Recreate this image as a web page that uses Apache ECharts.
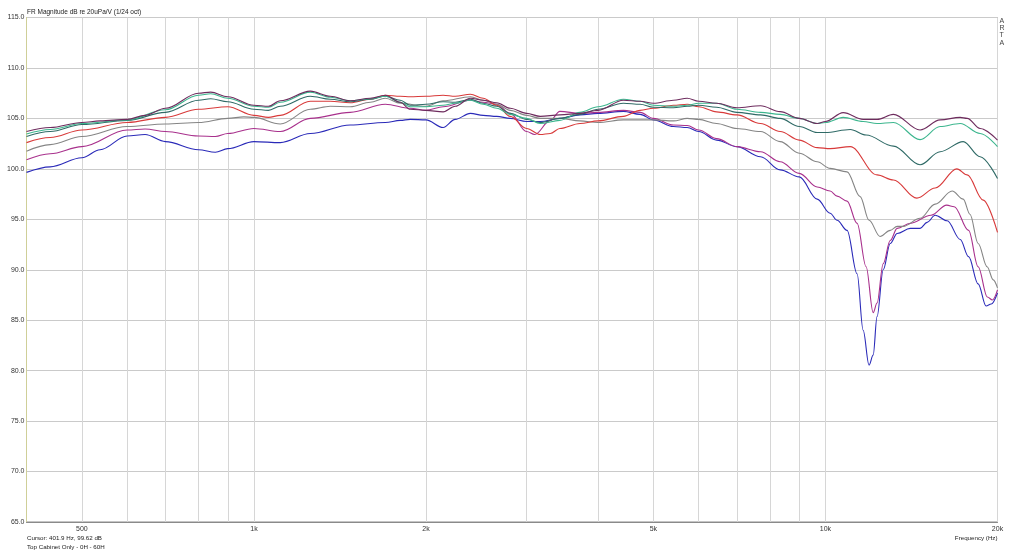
<!DOCTYPE html>
<html>
<head>
<meta charset="utf-8">
<script src="https://cdn.jsdelivr.net/npm/echarts@6/dist/echarts.min.js"></script>
<style>
html,body{margin:0;padding:0;background:#fff;}
#chart{width:1024px;height:552px;}
</style>
</head>
<body>
<div id="chart"></div>
<script>
// Frequencies (Hz) for grid lines and labels
const gridFreqs = [500,600,700,800,900,1000,2000,3000,4000,5000,6000,7000,8000,9000,10000,20000];
const labelFreqs = [500,1000,2000,5000,10000,20000];

// Series: [frequency Hz, dB]
const curvePurple = [[400,103.7],[440,104.1],[500,104.6],[538,104.75],[600,104.9],[645,105.3],[700,106.0],[800,107.5],[840,107.6],[900,107.15],[1000,106.3],[1060,106.2],[1112,106.75],[1255,107.7],[1360,107.2],[1474,106.75],[1598,107.0],[1698,107.3],[1803,106.6],[1877,105.9],[2000,105.8],[2143,105.65],[2250,106.2],[2392,107.0],[2518,106.8],[2660,106.55],[2808,106.0],[3000,105.5],[3169,105.2],[3430,105.35],[3720,105.5],[4000,105.8],[4430,106.8],[4740,106.7],[5000,106.5],[5420,106.8],[5730,107.0],[6000,106.7],[6450,106.5],[7000,106.05],[7700,106.25],[8333,105.67],[9000,105.0],[9672,104.5],[10000,104.7],[10740,105.57],[11640,104.9],[12310,104.9],[13150,105.4],[14640,103.85],[15870,104.85],[17210,105.1],[17700,105.0],[18650,104.0],[20000,102.85]];
const curveMint = [[400,103.45],[440,103.9],[500,104.5],[600,104.85],[700,105.85],[800,107.3],[840,107.45],[900,107.0],[1000,106.2],[1060,106.1],[1112,106.6],[1255,107.6],[1360,107.1],[1474,106.75],[1598,106.95],[1698,107.2],[1803,106.6],[1877,106.15],[2000,106.15],[2143,106.3],[2250,106.5],[2392,106.8],[2518,106.4],[2660,106.0],[2808,105.4],[3000,105.0],[3169,104.5],[3430,104.8],[3720,105.6],[4000,106.15],[4430,106.9],[4740,106.7],[5000,106.3],[5420,106.2],[5730,106.3],[6000,106.5],[6450,106.5],[7000,105.9],[7700,105.6],[8333,105.4],[9000,105.0],[9672,104.5],[10000,104.6],[10740,105.1],[11640,104.7],[12310,104.5],[13150,104.6],[14640,102.9],[15870,104.2],[17210,104.5],[18650,103.5],[20000,102.2]];
const curveTeal = [[400,103.2],[440,103.7],[500,104.4],[600,104.8],[700,105.6],[800,106.8],[840,106.95],[900,106.65],[1000,105.9],[1060,105.8],[1112,106.2],[1255,107.2],[1360,106.9],[1474,106.65],[1598,106.9],[1698,107.2],[1803,106.8],[1877,106.3],[2000,106.4],[2143,106.65],[2250,106.6],[2392,106.9],[2518,106.5],[2660,106.2],[2808,105.5],[3000,104.9],[3169,104.6],[3430,105.0],[3720,105.4],[4000,105.9],[4430,106.5],[4740,106.4],[5000,106.1],[5420,106.05],[5730,106.2],[6000,106.3],[6450,106.1],[7000,105.6],[7700,105.35],[8333,105.0],[9000,104.2],[9672,103.6],[10000,103.6],[11050,103.9],[11780,103.35],[13150,102.25],[14640,100.4],[15870,101.7],[17420,102.7],[18650,101.2],[20000,99.05]];
const curveRed = [[400,102.6],[440,103.1],[500,103.85],[600,104.6],[700,105.1],[800,105.9],[900,106.15],[1000,105.3],[1060,105.1],[1112,105.3],[1255,106.7],[1360,106.7],[1474,106.55],[1598,106.9],[1698,107.3],[1803,107.2],[1877,107.15],[2000,107.2],[2143,107.3],[2250,107.2],[2392,107.4],[2518,107.0],[2660,106.3],[2808,105.2],[3000,104.0],[3169,103.4],[3300,103.5],[3430,104.0],[3720,104.5],[4000,104.75],[4430,105.2],[4740,105.8],[5000,106.0],[5420,106.3],[5730,106.4],[6000,106.15],[6450,105.65],[7000,105.35],[7700,104.5],[8333,103.7],[9000,102.85],[9672,102.1],[10190,102.0],[11050,102.2],[12310,99.4],[13150,98.9],[14450,97.1],[15560,98.1],[16980,100.0],[17700,99.4],[18880,96.9],[20000,93.7]];
const curveGray = [[400,101.75],[440,102.4],[500,103.2],[600,104.2],[700,104.45],[800,104.6],[900,105.0],[960,105.15],[1000,105.1],[1112,104.45],[1255,105.9],[1360,106.2],[1474,106.15],[1598,106.6],[1698,107.0],[1803,106.5],[2000,106.2],[2143,106.75],[2392,107.15],[2518,106.8],[2660,106.4],[2808,105.8],[3000,105.3],[3169,105.0],[3430,105.0],[3720,104.75],[4000,104.6],[4430,104.85],[5000,104.85],[5420,104.75],[5730,105.0],[6000,104.9],[6450,104.5],[7000,104.0],[7700,103.7],[8333,102.7],[9000,101.55],[9672,100.7],[10190,100.05],[10910,99.7],[11500,97.25],[11920,94.9],[12460,93.3],[12980,93.9],[13350,94.3],[13680,94.3],[14640,95.1],[15560,96.5],[16660,97.8],[17420,97.0],[17900,95.5],[18500,92.6],[19180,90.3],[19660,89.0],[20000,88.2]];
const curveMagenta = [[400,100.9],[440,101.5],[500,102.2],[600,103.85],[645,103.95],[700,103.7],[800,103.25],[856,103.2],[900,103.5],[1000,104.0],[1112,103.7],[1255,105.0],[1474,105.6],[1698,106.4],[1877,106.0],[2000,105.8],[2143,106.15],[2392,106.8],[2518,106.6],[2660,106.4],[2808,105.5],[3000,103.7],[3100,103.4],[3300,104.8],[3430,105.7],[3720,105.5],[4000,105.6],[4430,105.8],[4740,105.6],[5000,105.0],[5420,104.35],[5730,104.3],[6000,103.85],[6450,103.0],[7000,102.2],[7700,101.7],[8333,100.7],[9000,99.55],[9672,98.2],[10190,97.8],[10480,97.3],[10910,96.8],[11360,94.6],[11780,90.3],[12120,85.75],[12310,86.7],[12620,90.6],[12980,92.9],[13350,94.1],[14070,94.6],[15300,95.4],[16300,96.4],[16800,96.25],[17800,93.9],[18500,90.3],[19200,87.3],[19600,87.0],[20000,88.0]];
const curveBlue = [[400,99.65],[440,100.2],[500,101.1],[538,101.9],[600,103.25],[645,103.4],[700,102.7],[800,101.9],[856,101.65],[900,102.0],[1000,102.7],[1112,102.6],[1255,103.5],[1474,104.35],[1698,104.6],[1803,104.8],[1877,104.9],[2000,104.85],[2143,104.1],[2250,104.9],[2392,105.5],[2518,105.3],[2660,105.2],[2808,105.0],[3000,104.7],[3169,104.7],[3430,105.0],[3720,105.35],[4000,105.5],[4430,105.7],[4740,105.4],[5000,104.85],[5420,104.2],[5730,104.1],[6000,103.7],[6450,102.85],[7000,102.2],[7700,101.2],[8333,99.9],[9000,99.2],[9672,97.0],[10190,95.6],[10480,94.9],[10910,93.9],[11360,89.6],[11640,84.0],[11920,80.55],[12120,81.55],[12310,85.35],[12620,90.0],[12980,92.6],[13350,93.6],[14070,94.1],[14640,94.1],[15060,94.7],[15560,95.4],[16330,94.85],[17210,93.0],[17800,91.3],[18500,88.6],[19100,86.4],[19500,86.6],[20000,87.7]];

const curves = [
  {name:'blue', data:curveBlue, color:'#2a2ab8'},
  {name:'magenta', data:curveMagenta, color:'#a8308c'},
  {name:'gray', data:curveGray, color:'#858585'},
  {name:'red', data:curveRed, color:'#d83a3a'},
  {name:'teal', data:curveTeal, color:'#2f6a66'},
  {name:'mint', data:curveMint, color:'#3cb68e'},
  {name:'purple', data:curvePurple, color:'#6e2c5e'}
];

const FONT = 'Liberation Sans, Arial, sans-serif';
const chart = echarts.init(document.getElementById('chart'));
chart.setOption({
  animation:false,
  backgroundColor:'#ffffff',
  grid:{left:26.5, right:26.5, top:17.5, bottom:30, show:true, borderColor:'#8a8a8a', borderWidth:1, backgroundColor:'#ffffff'},
  xAxis:{
    type:'log', logBase:10, min:400, max:20000,
    axisLine:{show:true, lineStyle:{color:'#8a8a8a', width:1}},
    axisTick:{show:false, customValues:gridFreqs},
    splitLine:{show:true, lineStyle:{color:'#d6d6d6', width:1}},
    minorSplitLine:{show:false},
    axisLabel:{customValues:labelFreqs, fontFamily:FONT, fontSize:7, color:'#333', margin:4,
      formatter:function(v){return v>=1000 ? (Math.round(v/1000))+'k' : String(Math.round(v));}}
  },
  yAxis:{
    type:'value', min:65, max:115, interval:5,
    axisLine:{show:true, lineStyle:{color:'#cfcf98', width:1}},
    axisTick:{show:false},
    splitLine:{show:true, lineStyle:{color:'#cacaca', width:1}},
    axisLabel:{fontFamily:FONT, fontSize:7, color:'#333', margin:2,
      formatter:function(v){return v.toFixed(1);}}
  },
  graphic:[
    {type:'text', left:27, top:9, style:{text:'FR Magnitude dB re 20uPa/V (1/24 oct)', font:'6.5px '+FONT, fill:'#222'}},
    {type:'text', left:999.5, top:17, style:{text:'A\nR\nT\nA', font:'7px '+FONT, fill:'#444', lineHeight:7.4}},
    {type:'text', left:27, top:535, style:{text:'Cursor: 401.9 Hz, 99.62 dB', font:'6.2px '+FONT, fill:'#222'}},
    {type:'text', left:27, top:544, style:{text:'Top Cabinet Only - 0H - 60H', font:'6.2px '+FONT, fill:'#222'}},
    {type:'text', right:26.5, top:535.5, style:{text:'Frequency (Hz)', font:'6.2px '+FONT, fill:'#222'}}
  ],
  series: curves.map(function(c){
    return {name:c.name, type:'line', data:c.data, showSymbol:false, symbol:'none',
      smooth:0.35, smoothMonotone:'x', lineStyle:{color:c.color, width:1.1}, itemStyle:{color:c.color}};
  })
});
</script>
</body>
</html>
